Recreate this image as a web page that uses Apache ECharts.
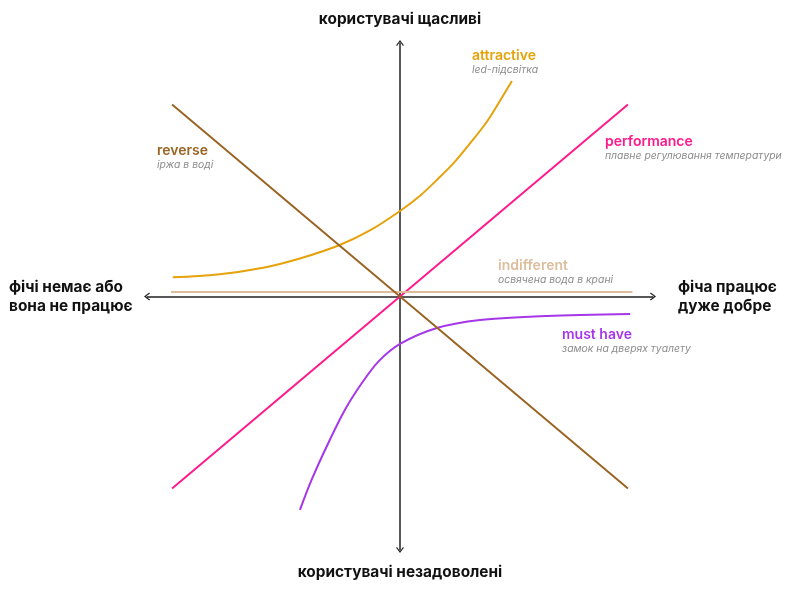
<!doctype html>
<html lang="uk">
<head>
	<meta charset="UTF-8">
	<title>Kano</title>
	<style>
		html, body { margin: 0; padding: 0; background: #fff; }
		#chart { width: 800px; height: 593px; }
	</style>
</head>
<body>
<div id="chart"></div>
<script src="https://cdn.jsdelivr.net/npm/echarts@6/dist/echarts.min.js"></script>
<script>
	// точки кривих (x: -1..1, y: -1..1)
	var performance = [[-1, -1], [1, 1]];
	var reverse = [[-1, 1], [1, -1]];
	var indifferent = [[-1.005, 0.024], [1.02, 0.024]];
	var attractive = [
		[-0.997, 0.10], [-0.8, 0.115], [-0.6, 0.15], [-0.439, 0.198],
		[-0.264, 0.268], [-0.13, 0.345], [0, 0.445], [0.088, 0.525],
		[0.161, 0.606], [0.234, 0.693], [0.307, 0.797], [0.381, 0.91],
		[0.454, 1.049], [0.491, 1.122]
	];
	var mustHave = [
		[-0.439, -1.111], [-0.388, -0.955], [-0.315, -0.764], [-0.242, -0.591],
		[-0.168, -0.452], [-0.095, -0.339], [0, -0.247], [0.162, -0.164],
		[0.351, -0.122], [0.646, -0.101], [1.01, -0.091]
	];

	var names = ['attractive', 'performance', 'indifferent', 'must have', 'reverse'];
	var notes = ['led-підсвітка', 'плавне регулювання температури', 'освячена вода в крані', 'замок на дверях туалету', 'іржа в воді'];
	var colors = ['#e6a20a', '#ff1a8c', '#dcbd9c', '#a637e8', '#9a6424'];

	var chevron = 'path://M0,8 L6,0 L12,8 L10.6,9.2 L6,2.8 L1.4,9.2 Z';

	function axis(range) {
		return {
			type: 'value',
			min: -range,
			max: range,
			axisLine: {
				show: true,
				onZero: true,
				symbol: [chevron, chevron],
				symbolSize: [9, 6],
				lineStyle: { color: '#222', width: 1.5 }
			},
			axisTick: { show: false },
			axisLabel: { show: false },
			splitLine: { show: false }
		};
	}

	function line(data, i) {
		return {
			type: 'line',
			name: names[i],
			data: data,
			smooth: data.length > 2 ? 0.3 : false,
			symbol: 'none',
			silent: true,
			lineStyle: { color: colors[i], width: 2 },
			z: 3
		};
	}

	// підпис кривої: назва + приклад
	function tag(i, x, y) {
		return [
			{ type: 'text', left: x, top: y - 8, style: { text: names[i], fill: colors[i], font: '600 14px Inter' } },
			{ type: 'text', left: x, top: y + 8, style: { text: notes[i], fill: '#8c8c8c', font: 'italic 10.4px Inter' } }
		];
	}

	var bold = '700 15.4px Inter';
	var graphic = [
		{ type: 'text', left: 'center', top: 12, style: { text: 'користувачі щасливі', fill: '#111', font: bold } },
		{ type: 'text', left: 'center', top: 565, style: { text: 'користувачі незадоволені', fill: '#111', font: bold } },
		{ type: 'text', left: 9, top: 278, style: { text: 'фічі немає або\nвона не працює', fill: '#111', font: bold, lineHeight: 19 } },
		{ type: 'text', left: 678, top: 278, style: { text: 'фіча працює\nдуже добре', fill: '#111', font: bold, lineHeight: 19 } }
	]
		.concat(tag(0, 472, 57))
		.concat(tag(1, 605, 143))
		.concat(tag(2, 498, 267))
		.concat(tag(3, 562, 336))
		.concat(tag(4, 157, 152));

	var chart = echarts.init(document.getElementById('chart'));
	chart.setOption({
		animation: false,
		grid: { left: 147, right: 147, top: 43, bottom: 43 },
		xAxis: axis(1.11),
		yAxis: axis(1.32),
		series: [
			line(attractive, 0),
			line(performance, 1),
			line(indifferent, 2),
			line(mustHave, 3),
			line(reverse, 4)
		],
		graphic: graphic
	});
</script>
</body>
</html>
